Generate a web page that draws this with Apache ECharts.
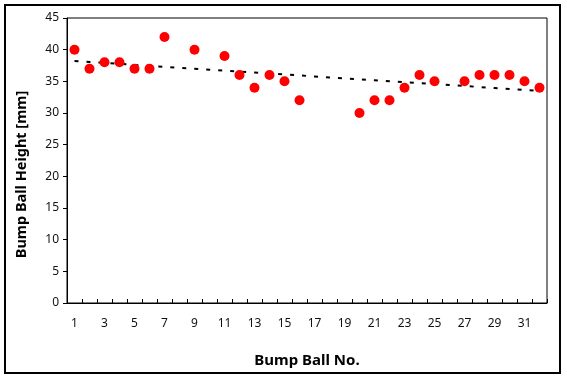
<!DOCTYPE html>
<html><head><meta charset="utf-8">
<script src="https://cdn.jsdelivr.net/npm/echarts@6/dist/echarts.min.js"></script>
<style>html,body{margin:0;padding:0;background:#fff}#c{width:567px;height:379px}</style>
</head><body><div id="c"></div>
<script>
const categories = Array.from({length:32},(_,i)=>String(i+1));
const ballNo = [1,2,3,4,5,6,7,9,11,12,13,14,15,16,20,21,22,23,24,25,27,28,29,30,31,32];
const heights = [40,37,38,38,37,37,42,40,39,36,34,36,35,32,30,32,32,34,36,35,35,36,36,36,35,34];
const yTicks = [0,5,10,15,20,25,30,35,40,45];

// linear trendline (least squares) from the data
const n = ballNo.length;
const mx = ballNo.reduce((a,b)=>a+b,0)/n;
const my = heights.reduce((a,b)=>a+b,0)/n;
let sxy=0,sxx=0;
for(let i=0;i<n;i++){sxy+=(ballNo[i]-mx)*(heights[i]-my);sxx+=(ballNo[i]-mx)**2;}
const slope=sxy/sxx, icpt=my-slope*mx;
const trend = categories.map(c=>+(icpt+slope*(+c)).toFixed(3));

const font = '"Noto Sans", "DejaVu Sans", sans-serif';
const chart = echarts.init(document.getElementById('c'));
chart.setOption({
  animation:false,
  graphic:[{type:'rect',shape:{x:5,y:5,width:555,height:368},style:{fill:'none',stroke:'#000',lineWidth:2},silent:true}],
  grid:{left:67,top:18,width:480,height:285,show:true,borderColor:'#000',borderWidth:1,backgroundColor:'transparent'},
  xAxis:{type:'category',data:categories,boundaryGap:true,
    name:'Bump Ball No.',nameLocation:'middle',nameGap:50,
    nameTextStyle:{fontFamily:font,fontSize:15,fontWeight:'bold',color:'#000'},
    axisLine:{lineStyle:{color:'#000',width:1}},
    axisTick:{show:true,inside:true,length:4,interval:0,alignWithLabel:false,lineStyle:{color:'#000'}},
    axisLabel:{interval:1,margin:15,fontFamily:font,fontSize:12,color:'#111'},
    splitLine:{show:false}},
  yAxis:{type:'value',min:0,max:45,interval:5,
    name:'Bump Ball Height [mm]',nameLocation:'middle',nameGap:38,nameRotate:90,
    nameTextStyle:{fontFamily:font,fontSize:14.5,fontWeight:'bold',color:'#000',padding:[0,28,0,0]},
    axisLine:{show:true,lineStyle:{color:'#000',width:1}},
    axisTick:{show:true,inside:false,length:4,lineStyle:{color:'#000'}},
    axisLabel:{margin:8,fontFamily:font,fontSize:12,color:'#111',formatter:v=>yTicks.includes(v)?String(v):''},
    splitLine:{show:false}},
  series:[
    {type:'line',data:trend,symbol:'none',silent:true,z:1,
      lineStyle:{color:'#000',width:2,type:[4,8],cap:'butt'}},
    {type:'scatter',data:ballNo.map((x,i)=>[String(x),heights[i]]),symbol:'circle',symbolSize:10,z:2,
      itemStyle:{color:'#ff0000',borderWidth:0,opacity:1}}
  ]
});
</script></body></html>
